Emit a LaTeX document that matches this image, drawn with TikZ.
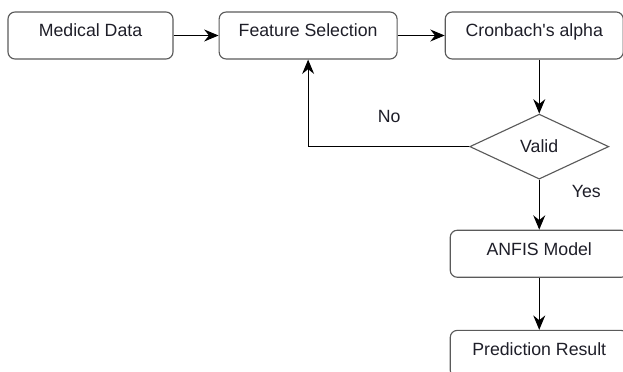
\documentclass[tikz,border=0pt]{standalone}
\usepackage{fontspec}
\setmainfont{Liberation Sans}
\usetikzlibrary{shapes.geometric, arrows.meta, positioning}
\definecolor{boxgray}{RGB}{90, 90, 90}
\definecolor{textdark}{RGB}{30, 30, 40}

\begin{document}
\begin{tikzpicture}[
    node distance=1.2cm,
    box/.style={draw=boxgray, rounded corners=5pt, minimum width=4.45cm,
                minimum height=1.175cm, font=\fontsize{12.6}{15}\selectfont,
                text=textdark, text height=0.4cm, text depth=0.33cm,
                align=center, inner sep=0pt, line width=0.8pt},
    decision/.style={diamond, draw=boxgray, minimum width=3.475cm,
                     minimum height=1.625cm, inner sep=0pt, text=textdark,
                     font=\fontsize{12.6}{15}\selectfont, line width=0.8pt},
    arrow/.style={-{Stealth[length=0.36cm, width=0.3cm, inset=0.12cm]}, line width=0.8pt},
    lbl/.style={font=\fontsize{12.6}{15}\selectfont, text=textdark},
]
    \path[use as bounding box, clip] (0,0) rectangle (15.575,-9.3);

    % Top row
    \node[box, minimum width=4.125cm] (medical) at (2.2625,-0.8875) {Medical Data};
    \node[box, right=1.125cm of medical] (feature) {Feature Selection};
    \node[box, right=1.175cm of feature] (cronbach) {Cronbach\textquotesingle s alpha};

    % Check and model
    \node[decision, below=1.35cm of cronbach, xshift=0.125cm] (valid) {Valid};
    \node[box, below=1.25cm of valid] (anfis) {ANFIS Model};
    \node[box, below=1.3cm of anfis] (result) {Prediction Result};

    % Arrows
    \draw[arrow] (medical) -- (feature);
    \draw[arrow] (feature) -- (cronbach);
    \draw[arrow] (cronbach.south -| valid.north) -- (valid);
    \draw[arrow] (valid) -| (feature);
    \draw[arrow] (valid) -- (anfis);
    \draw[arrow] (anfis) -- (result);

    % Branch labels
    \node[lbl] (no) at ([xshift=-2cm, yshift=0.75cm]valid.west) {No};
    \node[lbl] (yes) at ([xshift=1.175cm, yshift=-0.3cm]valid.south) {Yes};
\end{tikzpicture}
\end{document}
